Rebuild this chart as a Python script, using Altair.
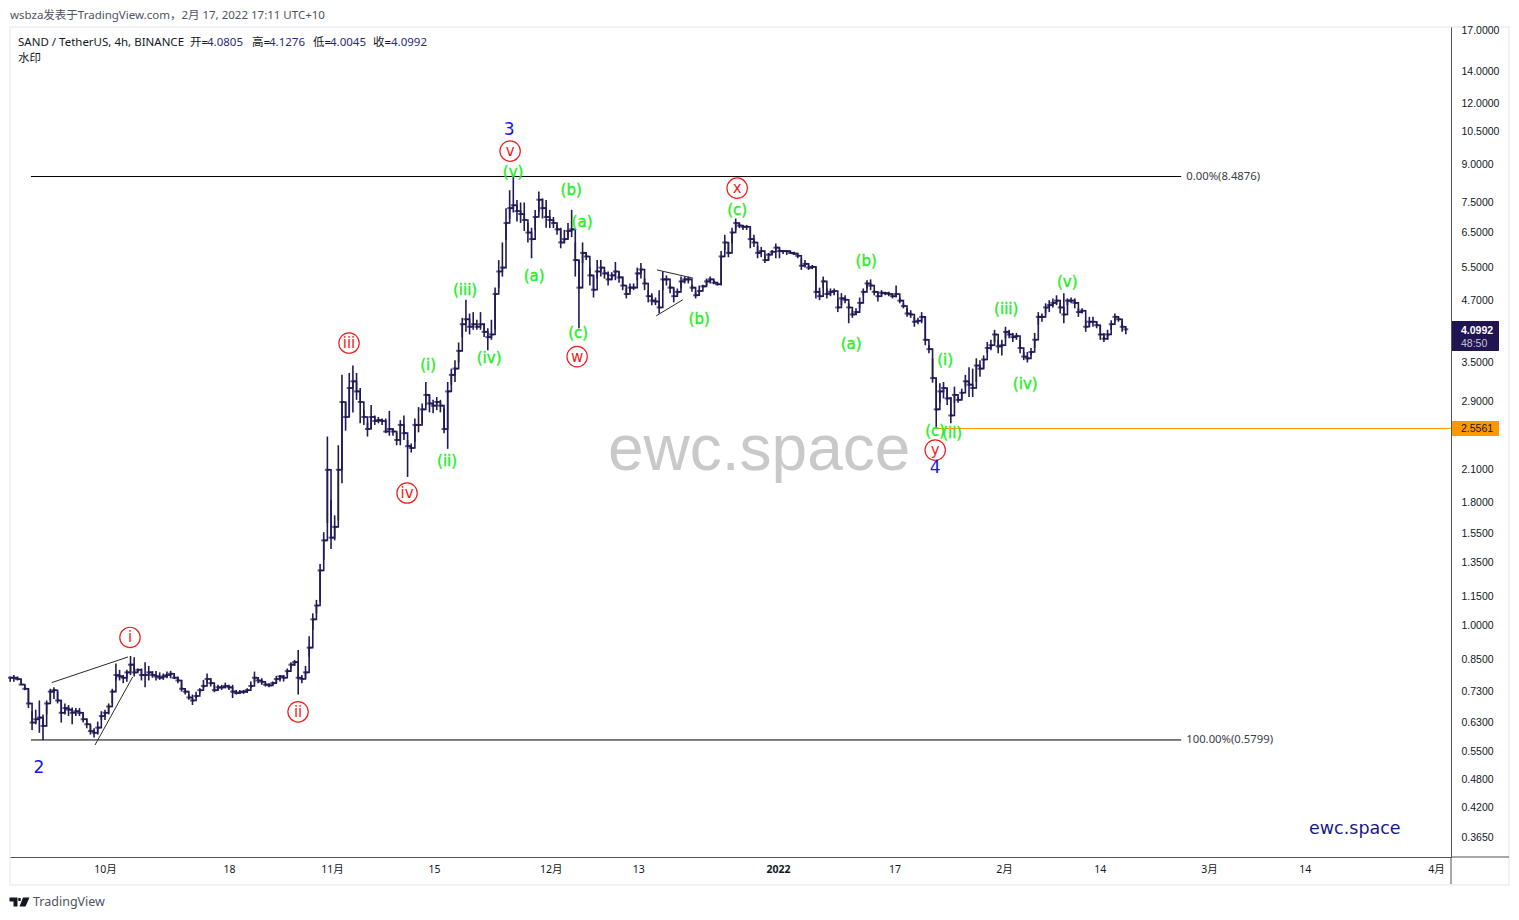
import altair as alt
import pandas as pd

start = pd.Timestamp("2021-09-18 00:00")

def when(days):
    return start + pd.Timedelta(days=days)

highs = [
 .785,.79,.785,.775,.755,.74,.665,.67,.70,.655,
 .70,.74,.745,.73,.702,.69,.685,.677,.675,.675,
 .658,.643,.623,.613,.633,.665,.67,.69,.74,.835,
 .81,.79,.81,.865,.86,.815,.815,.84,.825,.805,
 .805,.80,.796,.803,.806,.79,.785,.772,.742,.72,
 .72,.73,.742,.772,.796,.778,.754,.754,.754,.762,
 .754,.754,.736,.736,.736,.742,.766,.803,.782,.778,
 .76,.76,.766,.787,.79,.79,.815,.84,.849,.89,
 .79,.825,.95,1.06,1.13,1.34,1.56,2.46,1.82,1.69,
 2.36,3.3,2.9,3.33,3.45,3.33,3.1,2.79,2.63,2.86,
 2.72,2.7,2.68,2.68,2.78,2.56,2.51,2.66,2.72,2.42,
 2.38,2.68,2.83,2.88,3.19,3.0,2.93,2.97,2.93,2.82,
 3.19,3.4,3.54,3.85,4.33,4.72,4.42,4.45,4.29,4.45,
 4.22,4.12,4.29,5.0,5.7,6.2,7.3,7.95,8.4876,7.59,
 7.5,7.5,6.8,6.65,7.24,7.9,7.65,7.59,7.24,7.0,
 6.74,6.65,6.58,6.8,7.24,6.2,5.7,6.2,5.9,5.5,
 5.3,5.7,5.7,5.44,5.4,5.38,5.65,5.4,5.27,5.0,
 5.1,5.1,5.5,5.62,5.22,4.94,4.87,4.77,4.94,5.4,
 5.3,5.07,4.98,4.98,5.27,5.27,5.27,5.07,4.9,5.05,
 5.07,5.22,5.27,5.18,5.12,5.95,6.43,6.2,6.65,6.95,
 6.8,6.74,6.74,6.64,6.43,6.1,6.07,5.84,5.9,5.98,
 6.17,6.03,5.98,5.98,5.93,5.93,5.9,5.75,5.7,5.57,
 5.57,5.52,5.0,5.27,4.98,4.98,4.98,4.75,4.87,4.82,
 4.64,4.49,4.53,4.77,4.98,5.18,5.2,4.94,4.9,4.94,
 4.9,4.9,4.87,5.05,4.77,4.64,4.53,4.49,4.35,4.33,
 4.45,4.35,3.8,3.57,3.25,3.17,3.19,3.09,2.97,3.12,
 2.97,3.09,3.3,3.42,3.4,3.57,3.54,3.62,3.86,3.9,
 4.09,3.9,3.9,4.15,4.09,4.03,4.03,3.9,3.68,3.68,
 3.75,4.03,4.45,4.42,4.64,4.71,4.75,4.82,4.64,4.87,
 4.75,4.77,4.75,4.53,4.53,4.28,4.35,4.35,4.25,4.19,
 4.03,4.09,4.28,4.42,4.33,4.28,4.1276,
]
lows = [
 .765,.765,.77,.755,.735,.675,.608,.625,.60,.58,
 .655,.70,.705,.69,.63,.655,.65,.625,.65,.65,
 .63,.613,.595,.587,.595,.638,.638,.655,.69,.77,
 .77,.76,.765,.79,.785,.80,.77,.745,.77,.78,
 .77,.772,.772,.778,.778,.775,.76,.73,.72,.702,
 .685,.708,.725,.742,.76,.748,.728,.736,.736,.742,
 .736,.708,.72,.722,.722,.725,.742,.763,.76,.754,
 .748,.745,.75,.76,.766,.766,.79,.815,.825,.72,
 .76,.778,.862,.98,1.06,1.12,1.366,1.63,1.44,1.50,
 1.65,1.97,2.53,2.7,2.76,2.93,2.62,2.6,2.46,2.56,
 2.6,2.62,2.6,2.5,2.47,2.47,2.36,2.36,2.42,2.03,
 2.28,2.4,2.51,2.62,2.86,2.76,2.75,2.79,2.76,2.5,
 2.32,3.15,3.19,3.5,3.95,4.05,4.0,4.09,4.09,4.09,
 3.95,3.71,3.9,4.1,5.0,5.27,6.27,6.95,7.15,6.85,
 6.8,6.55,6.2,5.75,6.58,7.15,6.95,6.65,6.64,6.64,
 6.43,6.03,6.17,6.33,6.36,5.27,4.12,5.62,5.7,5.05,
 4.77,5.22,5.27,5.22,5.05,5.18,5.18,5.12,4.94,4.75,
 4.9,4.94,5.18,5.22,4.94,4.66,4.6,4.6,4.42,4.94,
 5.05,4.87,4.66,4.82,4.98,5.1,5.1,4.9,4.75,4.82,
 5.0,5.05,5.1,5.08,5.05,5.05,5.98,5.78,6.17,6.58,
 6.64,6.58,6.58,6.03,6.07,5.75,5.78,5.62,5.7,5.84,
 5.75,5.75,5.87,5.84,5.87,5.84,5.75,5.44,5.5,5.44,
 5.46,4.75,4.71,5.0,4.75,4.8,4.82,4.45,4.6,4.64,
 4.22,4.33,4.39,4.53,4.82,4.98,4.94,4.82,4.68,4.82,
 4.82,4.8,4.75,4.77,4.64,4.53,4.35,4.33,4.15,4.2,
 4.22,3.8,3.66,3.18,2.5561,2.89,2.95,2.86,2.62,2.89,
 2.89,2.93,3.12,2.97,2.97,3.19,3.27,3.4,3.66,3.71,
 3.86,3.66,3.62,3.93,3.93,3.86,3.9,3.66,3.54,3.5,
 3.62,3.75,4.19,4.25,4.42,4.45,4.55,4.6,4.42,4.22,
 4.6,4.64,4.53,4.35,4.42,4.05,4.15,4.15,4.12,3.9,
 3.86,3.9,4.09,4.25,4.25,4.05,4.0045,
]
closes = [
 .78,.78,.775,.755,.74,.69,.63,.64,.645,.62,
 .69,.73,.735,.70,.66,.675,.67,.66,.665,.66,
 .64,.625,.605,.60,.615,.65,.66,.68,.73,.79,
 .785,.78,.80,.83,.80,.81,.79,.79,.80,.79,
 .785,.78,.785,.79,.795,.78,.77,.74,.73,.71,
 .70,.715,.735,.75,.775,.76,.735,.745,.745,.75,
 .745,.73,.725,.728,.73,.735,.75,.78,.77,.765,
 .755,.752,.76,.775,.785,.78,.805,.83,.84,.78,
 .775,.80,.90,1.03,1.1,1.3,1.5,2.1,1.52,1.6,
 2.1,2.9,2.7,3.1,3.2,3.05,2.9,2.7,2.55,2.7,
 2.65,2.66,2.65,2.52,2.55,2.52,2.42,2.6,2.5,2.35,
 2.33,2.6,2.6,2.8,3.0,2.88,2.85,2.9,2.85,2.55,
 3.05,3.3,3.4,3.7,4.2,4.3,4.15,4.2,4.15,4.2,
 4.05,3.95,4.0,4.85,5.4,5.5,6.8,7.3,7.4,7.2,
 7.1,6.9,6.5,6.3,7.0,7.6,7.3,7.0,6.9,6.8,
 6.6,6.2,6.3,6.55,6.6,5.7,5.0,5.9,5.8,5.3,
 4.95,5.4,5.5,5.35,5.2,5.3,5.4,5.25,5.05,4.85,
 5.0,5.0,5.35,5.45,5.1,4.8,4.7,4.68,4.55,5.2,
 5.2,5.0,4.8,4.9,5.15,5.2,5.2,5.0,4.82,4.92,
 5.03,5.15,5.2,5.12,5.08,5.8,6.2,5.9,6.5,6.8,
 6.72,6.68,6.68,6.3,6.2,5.9,5.95,5.7,5.85,5.93,
 6.05,5.95,5.95,5.95,5.9,5.88,5.82,5.55,5.6,5.5,
 5.52,4.9,4.8,5.15,4.85,4.9,4.92,4.55,4.75,4.72,
 4.55,4.4,4.45,4.65,4.9,5.1,5.05,4.9,4.8,4.88,
 4.87,4.85,4.8,4.85,4.7,4.58,4.42,4.4,4.25,4.27,
 4.35,3.9,3.73,3.25,2.8,3.05,3.1,2.95,2.72,3.0,
 2.93,3.03,3.2,3.15,3.1,3.45,3.4,3.55,3.75,3.8,
 4.0,3.78,3.8,4.05,4.0,3.95,3.97,3.75,3.6,3.57,
 3.68,3.9,4.35,4.35,4.55,4.6,4.65,4.7,4.55,4.4,
 4.7,4.7,4.65,4.45,4.48,4.15,4.25,4.25,4.18,4.0,
 3.92,4.0,4.2,4.35,4.3,4.15,4.0992,
]
candle_times = [start + pd.Timedelta(hours=12 * k) for k in range(len(closes))]

green_labels = ["(v)","(b)","(a)","(a)","(c)","(iii)","(iv)","(i)","(ii)","(b)","(c)","(a)","(b)","(i)","(c)","(ii)","(iii)","(iv)","(v)"]
green_days = [68.97,76.93,78.43,71.85,77.89,62.39,65.68,57.31,59.92,94.49,99.70,115.34,117.39,128.23,126.86,129.19,136.6,139.21,144.97]
green_prices = [8.67,7.96,6.83,5.28,4.03,4.94,3.57,3.46,2.19,4.30,7.24,3.83,5.67,3.55,2.52,2.50,4.51,3.16,5.13]

red_labels = ["i","ii","iii","iv","v","w","x","y"]
red_days = [16.43,39.48,46.47,54.43,68.56,77.75,99.70,126.86]
red_prices = [.945,.663,3.84,1.88,9.58,3.60,8.03,2.306]

blue_labels = ["2","3","4"]
blue_days = [3.95,68.42,126.86]
blue_prices = [.507,10.6,2.12]

trend_d0 = [5.69,11.63,88.7,88.59]
trend_d1 = [16.16,16.8,93.66,92.25]
trend_p0 = [.762,.566,5.44,4.37]
trend_p1 = [.861,.783,5.23,4.72]

fib_prices = [8.4876,0.5799]
fib_labels = ["0.00%(8.4876)","100.00%(0.5799)"]
fib_d0, fib_d1 = 2.85, 160.6

last_price = 4.0992
support_price = 2.5561
support_d0, support_d1 = 127.1, 197.6

y_ticks = [17,14,12,10.5,9,7.5,6.5,5.5,4.7,3.5,2.9,2.1,1.8,1.55,1.35,1.15,1,.85,.73,.63,.55,.48,.42,.365]
# year, month, day, hour at which the reference prints the label, label
x_ticks = [(2021,10,1,0,"10月"),(2021,10,18,0,"18"),(2021,11,1,3,"11月"),(2021,11,15,3,"15"),(2021,12,1,3,"12月"),
           (2021,12,13,3,"13"),(2022,1,1,7,"2022"),(2022,1,17,7,"17"),(2022,2,1,7,"2月"),(2022,2,14,10,"14"),
           (2022,3,1,10,"3月"),(2022,3,14,13,"14"),(2022,4,1,13,"4月")]

CANDLE = "#201a55"
AXIS = "#50535e"
TXT = "#131722"
FRAME = "#eff1f8"
CJK = "Noto Sans, Noto Sans CJK SC"
W, H = 1441, 830

label_map = "{" + ",".join(f"'{y}-{m:02d}-{d:02d}':'{t}'" for y, m, d, _, t in x_ticks) + "}"
x_axis = alt.Axis(
    values=[alt.DateTime(year=y, month=m, date=d, hours=h) for y, m, d, h, _ in x_ticks],
    labelExpr=label_map + "[timeFormat(datum.value,'%Y-%m-%d')]",
    title=None, grid=False, ticks=False, domainColor=AXIS, domainWidth=1, zindex=1,
    labelFont="Noto Sans, Noto Sans CJK SC", labelFontSize=10.5, labelColor=TXT, labelPadding=7,
    labelAngle=0, labelOverlap=False, labelFlush=False,
    labelFontWeight={"condition": {"test": "year(datum.value)==2022 && month(datum.value)==0 && date(datum.value)==1", "value": "bold"}, "value": "normal"},
)
y_axis = alt.Axis(
    orient="right", values=y_ticks, format=".4f", title=None, grid=False, ticks=False, zindex=1,
    domainColor=AXIS, domainWidth=1, labelFont="Liberation Sans", labelFontSize=10.5,
    labelColor=TXT, labelPadding=10, labelOverlap=False, labelBound=False, labelFlush=False,
)
xs = alt.Scale(domain=[alt.DateTime(year=2021, month=9, date=17, hours=23, minutes=21),
                       alt.DateTime(year=2022, month=4, date=3, hours=14, minutes=24)])
ys = alt.Scale(type="log", domain=[0.3321, 17.30], nice=False)

def xenc(field):
    return alt.X(field, scale=xs, axis=x_axis)

def yenc(field):
    return alt.Y(field, scale=ys, axis=y_axis)

candles = pd.DataFrame({"t": candle_times, "high": highs, "low": lows, "close": closes})
X = xenc("t:T")
Y = yenc("price:Q")

wicks = alt.Chart(candles).mark_rule(color=CANDLE, strokeWidth=1.6).encode(
    x=X, y=yenc("low:Q"), y2="high:Q")
path = alt.Chart(candles).mark_line(color=CANDLE, strokeWidth=1.6, interpolate="step-after").encode(
    x=X, y=yenc("close:Q"))
ticks = alt.Chart(candles).mark_tick(color=CANDLE, thickness=2, size=5, orient="horizontal").encode(
    x=X, y=yenc("close:Q"))

fib = pd.DataFrame({"t0": [when(fib_d0)] * 2, "t1": [when(fib_d1)] * 2, "price": fib_prices, "label": fib_labels})
fib_rule = alt.Chart(fib).mark_rule(color="#000000", strokeWidth=1).encode(
    x=xenc("t0:T"), x2="t1:T", y=Y)
fib_text = alt.Chart(fib).mark_text(align="left", baseline="middle", dx=5, font="Noto Sans", fontSize=11.3, color="#3a3d48").encode(
    x=xenc("t1:T"), y=Y, text="label:N")

trend = pd.DataFrame({"t0": [when(d) for d in trend_d0], "t1": [when(d) for d in trend_d1], "p0": trend_p0, "p1": trend_p1})
trend_rule = alt.Chart(trend).mark_rule(color="#2a2a2a", strokeWidth=1).encode(
    x=xenc("t0:T"), x2="t1:T", y=yenc("p0:Q"), y2="p1:Q")

support = pd.DataFrame({"t0": [when(support_d0)], "t1": [when(support_d1)], "price": [support_price]})
support_rule = alt.Chart(support).mark_rule(color="#ff9800", strokeWidth=1).encode(
    x=xenc("t0:T"), x2="t1:T", y=Y)

green = pd.DataFrame({"t": [when(d) for d in green_days], "price": green_prices, "label": green_labels})
green_text = alt.Chart(green).mark_text(font="DejaVu Sans", fontSize=15, color="#22ee22", stroke="#22ee22", strokeWidth=0.35, baseline="middle").encode(
    x=X, y=Y, text="label:N")

red = pd.DataFrame({"t": [when(d) for d in red_days], "price": red_prices, "label": red_labels})
red_circle = alt.Chart(red).mark_point(shape="circle", size=415, filled=True, fill="#ffffff", stroke="#f21c1c", strokeWidth=1.2, opacity=1).encode(x=X, y=Y)
red_text = alt.Chart(red).mark_text(font="DejaVu Sans", fontSize=15, color="#f21c1c", baseline="middle").encode(x=X, y=Y, text="label:N")

blue = pd.DataFrame({"t": [when(d) for d in blue_days], "price": blue_prices, "label": blue_labels})
blue_text = alt.Chart(blue).mark_text(font="DejaVu Sans", fontSize=17, color="#1414f0", baseline="middle").encode(x=X, y=Y, text="label:N")

def chrome_text(txt, px, py, **kw):
    """Text placed in page pixels (outside data space): titles, logos, price badges."""
    opts = dict(align="left", baseline="middle", font=CJK, fontSize=11.5, color=TXT)
    opts.update(kw)
    return alt.Chart(pd.DataFrame({"s": [txt]})).mark_text(**opts).encode(
        x=alt.value(px - 10), y=alt.value(py - 27), text="s:N")

def chrome_rect(x0, x1, y0, y1, **kw):
    return alt.Chart(pd.DataFrame({"a": [0]})).mark_rect(**kw).encode(
        x=alt.value(x0 - 10), x2=alt.value(x1 - 10), y=alt.value(y0 - 27), y2=alt.value(y1 - 27))

def chrome_rule(x0, x1, y0, y1, color):
    return alt.Chart(pd.DataFrame({"a": [0]})).mark_rule(color=color, strokeWidth=1).encode(
        x=alt.value(x0 - 10), x2=alt.value(x1 - 10), y=alt.value(y0 - 27), y2=alt.value(y1 - 27))

VAL = "#2a2a78"
texts = [
    chrome_text("wsbza发表于TradingView.com，2月 17, 2022 17:11 UTC+10", 10, 16, color=AXIS),
    chrome_text("SAND / TetherUS, 4h, BINANCE", 18, 43),
    chrome_text("开=", 190, 43), chrome_text("4.0805", 207, 43, color=VAL),
    chrome_text("高=", 252, 43), chrome_text("4.1276", 269, 43, color=VAL),
    chrome_text("低=", 313, 43), chrome_text("4.0045", 330, 43, color=VAL),
    chrome_text("收=", 373, 43), chrome_text("4.0992", 391, 43, color=VAL),
    chrome_text("水印", 18, 59),
    chrome_text("ewc.space", 608, 451, font="Liberation Sans", fontSize=64, color="#c9c9c9"),
    chrome_text("ewc.space", 1309, 829, font="DejaVu Sans", fontSize=17.5, color="#1a1a8c"),
    chrome_text("TradingView", 33, 902, font="Noto Sans", fontSize=12.5, color=AXIS),
]
badge_texts = [
    chrome_text(f"{last_price:.4f}", 1461, 331, font="Liberation Sans", fontSize=10.5, fontWeight="bold", color="#ffffff"),
    chrome_text("48:50", 1461, 344, font="Liberation Sans", fontSize=10.5, color="#c8c6dc"),
    chrome_text(f"{support_price:.4f}", 1461, 429, font="Liberation Sans", fontSize=10.5, color=TXT),
]

frame = chrome_rect(10, 1509, 27, 885, fill="transparent", stroke=FRAME, strokeWidth=2)
badges = [
    chrome_rect(1451, 1499, 321, 351, fill="#201550", cornerRadius=1),
    chrome_rect(1451, 1499, 421, 436, fill="#ff9800", cornerRadius=1),
]
extra_lines = [chrome_rule(1451, 1451, 857, 884, AXIS), chrome_rule(1451, 1509, 857, 857, AXIS)]

logo_shape = ("M-1 -.45 L-.2 -.45 L-.2 .45 L-.6 .45 L-.6 -.05 L-1 -.05 Z "
              "M-.12 -.4 L.12 -.4 L.12 -.1 L-.12 -.1 Z "
              "M.35 -.45 L1 -.45 L.6 .45 L0 .45 Z")
logo = alt.Chart(pd.DataFrame({"a": [0]})).mark_point(shape=logo_shape, filled=True, color=TXT, size=400, opacity=1).encode(
    x=alt.value(19.5 - 10), y=alt.value(902 - 27))

chart = alt.layer(
    frame, wicks, path, ticks, fib_rule, fib_text, trend_rule, support_rule,
    red_circle, green_text, red_text, blue_text, *extra_lines, *badges, logo, *texts, *badge_texts,
).properties(
    width=W, height=H, autosize="none", background="#ffffff",
    padding={"left": 2, "top": 19, "right": 60, "bottom": 55},
).configure_view(stroke=None)

chart.save("out.html", embed_options={"renderer": "svg", "actions": False})
